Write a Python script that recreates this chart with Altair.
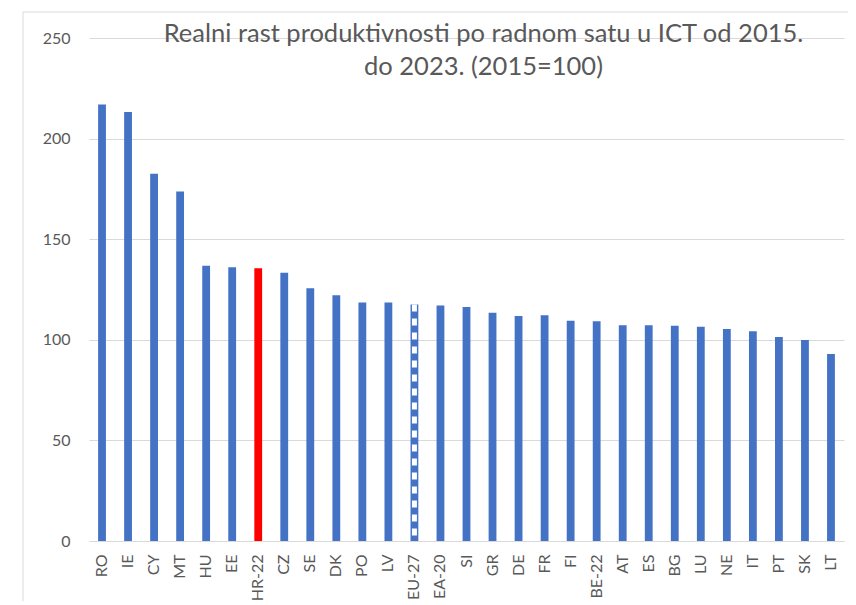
import altair as alt
import pandas as pd

countries = ["RO", "IE", "CY", "MT", "HU", "EE", "HR-22", "CZ", "SE", "DK", "PO", "LV",
             "EU-27", "EA-20", "SI", "GR", "DE", "FR", "FI", "BE-22", "AT", "ES", "BG",
             "LU", "NE", "IT", "PT", "SK", "LT"]
values = [216.9, 213.2, 182.5, 173.7, 136.8, 136.0, 135.6, 133.3, 125.6, 122.1, 118.5, 118.5,
          117.6, 117.0, 116.3, 113.5, 111.8, 112.2, 109.5, 109.2, 107.2, 107.2, 107.0,
          106.5, 105.4, 104.2, 101.4, 99.9, 92.9]
title_lines = ["Realni rast produktivnosti po radnom satu u ICT od 2015.", "do 2023. (2015=100)"]

df = pd.DataFrame({"country": countries, "value": values})

FONT = "Lato"
GREY = "#595959"
BLUE = "#4472C4"

x_enc = alt.X("country:N", sort=countries, title=None,
              scale=alt.Scale(paddingInner=0.70, paddingOuter=0.35),
              axis=alt.Axis(labelAngle=-90, labelFontSize=16, labelColor=GREY, labelFont=FONT,
                            ticks=False, labelPadding=13, domainColor="#d9d9d9",
                            domainWidth=1, labelAlign="right", labelBaseline="middle"))
y_enc = alt.Y("value:Q", title=None,
              scale=alt.Scale(domain=[0, 250], nice=False),
              axis=alt.Axis(values=[0, 50, 100, 150, 200, 250], domain=False, ticks=False,
                            labelFontSize=16, labelColor=GREY, labelFont=FONT, labelPadding=19,
                            gridColor="#d9d9d9", gridWidth=1))

bars = alt.Chart(df).mark_bar().encode(
    x=x_enc, y=y_enc,
    color=alt.condition(alt.datum.country == "HR-22", alt.value("#FF0000"), alt.value(BLUE)),
)

pattern = alt.Chart(df).transform_filter(alt.datum.country == "EU-27").mark_rule(
    color="white", strokeWidth=5, strokeDash=[7, 7]
).encode(x=alt.X("country:N", sort=countries), y="value:Q", y2=alt.datum(0))

border = alt.Chart(df).mark_rect(fill=None, stroke="#d9d9d9", strokeWidth=1).encode(
    x=alt.value(-66), x2=alt.value(764), y=alt.value(-26), y2=alt.value(600)
).transform_filter(alt.datum.country == "RO")

chart = alt.layer(border, bars, pattern).properties(
    width=755, height=503,
    autosize=alt.AutoSizeParams(type="none"),
    padding={"left": 81, "top": 30, "right": 4, "bottom": 60},
    title=alt.TitleParams(title_lines, font=FONT, fontSize=25.5, fontWeight="normal",
                          color=GREY, anchor="middle", baseline="top", offset=0,
                          dx=17, dy=69, lineHeight=33),
).configure_view(stroke=None)

chart.save("out.html", embed_options={"renderer": "svg", "actions": False})
